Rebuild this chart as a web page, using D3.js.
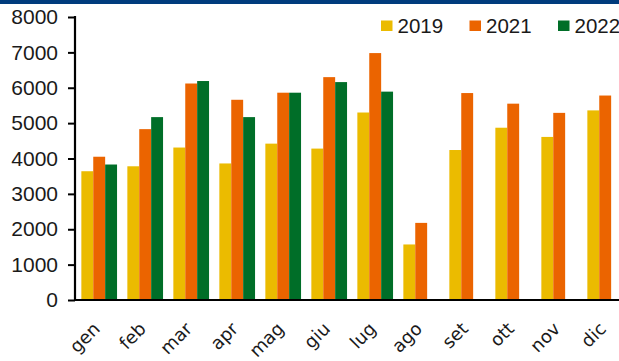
<!DOCTYPE html>
<html>
<head>
<meta charset="utf-8">
<script src="https://cdn.jsdelivr.net/npm/d3@7"></script>
<style>
  html, body { margin: 0; padding: 0; background: #fff; }
  svg { display: block; }
  text { font-family: "Liberation Sans", Arial, sans-serif; fill: #1a1a1a; }
</style>
</head>
<body>
<div id="chart"></div>
<script>
// Monthly values per year
const months = ["gen", "feb", "mar", "apr", "mag", "giu", "lug", "ago", "set", "ott", "nov", "dic"];
const years = ["2019", "2021", "2022"];
const values2019 = [3640, 3780, 4310, 3860, 4420, 4280, 5300, 1570, 4240, 4870, 4610, 5360];
const values2021 = [4050, 4830, 6120, 5660, 5860, 6300, 6980, 2180, 5850, 5550, 5290, 5780];
const values2022 = [3830, 5170, 6190, 5170, 5860, 6160, 5890, null, null, null, null, null];
const yTicks = [0, 1000, 2000, 3000, 4000, 5000, 6000, 7000, 8000];
const colors = ["#EBBB00", "#EB6400", "#006E28"];

const series = [values2019, values2021, values2022];

const W = 619, H = 361;
const svg = d3.select("#chart").append("svg").attr("width", W).attr("height", H);

// top band
svg.append("rect").attr("x", 0).attr("y", 0).attr("width", W).attr("height", 4).attr("fill", "#003C7D");

const axisX = 75, baseY = 300, topY = 17;

const y = d3.scaleLinear().domain([0, 8000]).range([baseY, topY]);
const x = d3.scaleBand().domain(months).range([76.2, 628.2]).paddingInner(0.224).paddingOuter(0.112);
const xs = d3.scaleBand().domain(years).range([0, x.bandwidth()]);

// bars
const g = svg.append("g");
months.forEach((m, i) => {
  years.forEach((yr, j) => {
    const v = series[j][i];
    if (v == null) return;
    g.append("rect")
      .attr("x", x(m) + xs(yr))
      .attr("y", y(v))
      .attr("width", xs.bandwidth())
      .attr("height", baseY - y(v))
      .attr("fill", colors[j]);
  });
});

// y axis
const yAxis = d3.axisLeft(y).tickValues(yTicks).tickSize(7).tickPadding(10).tickFormat(d3.format("d"));
const ya = svg.append("g").attr("transform", `translate(${axisX},0)`).call(yAxis);
ya.select(".domain").remove();
ya.selectAll(".tick line").attr("stroke", "#000").attr("stroke-width", 2);
ya.selectAll(".tick text").style("font-size", "21px").style("font-family", "Liberation Sans, Arial, sans-serif").attr("fill", "#1a1a1a");
svg.append("line").attr("x1", axisX).attr("x2", axisX).attr("y1", topY - 1).attr("y2", baseY + 1)
  .attr("stroke", "#000").attr("stroke-width", 2.2);

// x axis with rotated month labels
const xAxis = d3.axisBottom(x).tickSize(0).tickPadding(0);
const xa = svg.append("g").attr("transform", `translate(0,${baseY})`).call(xAxis);
xa.select(".domain").remove();
xa.selectAll(".tick text")
  .style("font-size", "18px")
  .style("font-family", "DejaVu Sans, sans-serif")
  .attr("fill", "#1a1a1a")
  .attr("text-anchor", "end")
  .attr("y", 0)
  .attr("dy", null)
  .attr("transform", "translate(2,30) rotate(-45)");
svg.append("line").attr("x1", axisX - 1).attr("x2", W).attr("y1", baseY).attr("y2", baseY)
  .attr("stroke", "#000").attr("stroke-width", 2.2);

// legend
const legendX = [381, 469.5, 558];
years.forEach((yr, j) => {
  const lg = svg.append("g").attr("transform", `translate(${legendX[j]},20.5)`);
  lg.append("rect").attr("width", 11.5).attr("height", 10.5).attr("fill", colors[j]);
  lg.append("text").attr("x", 16.5).attr("y", 12.5).style("font-size", "20.5px").text(yr);
});
</script>
</body>
</html>
